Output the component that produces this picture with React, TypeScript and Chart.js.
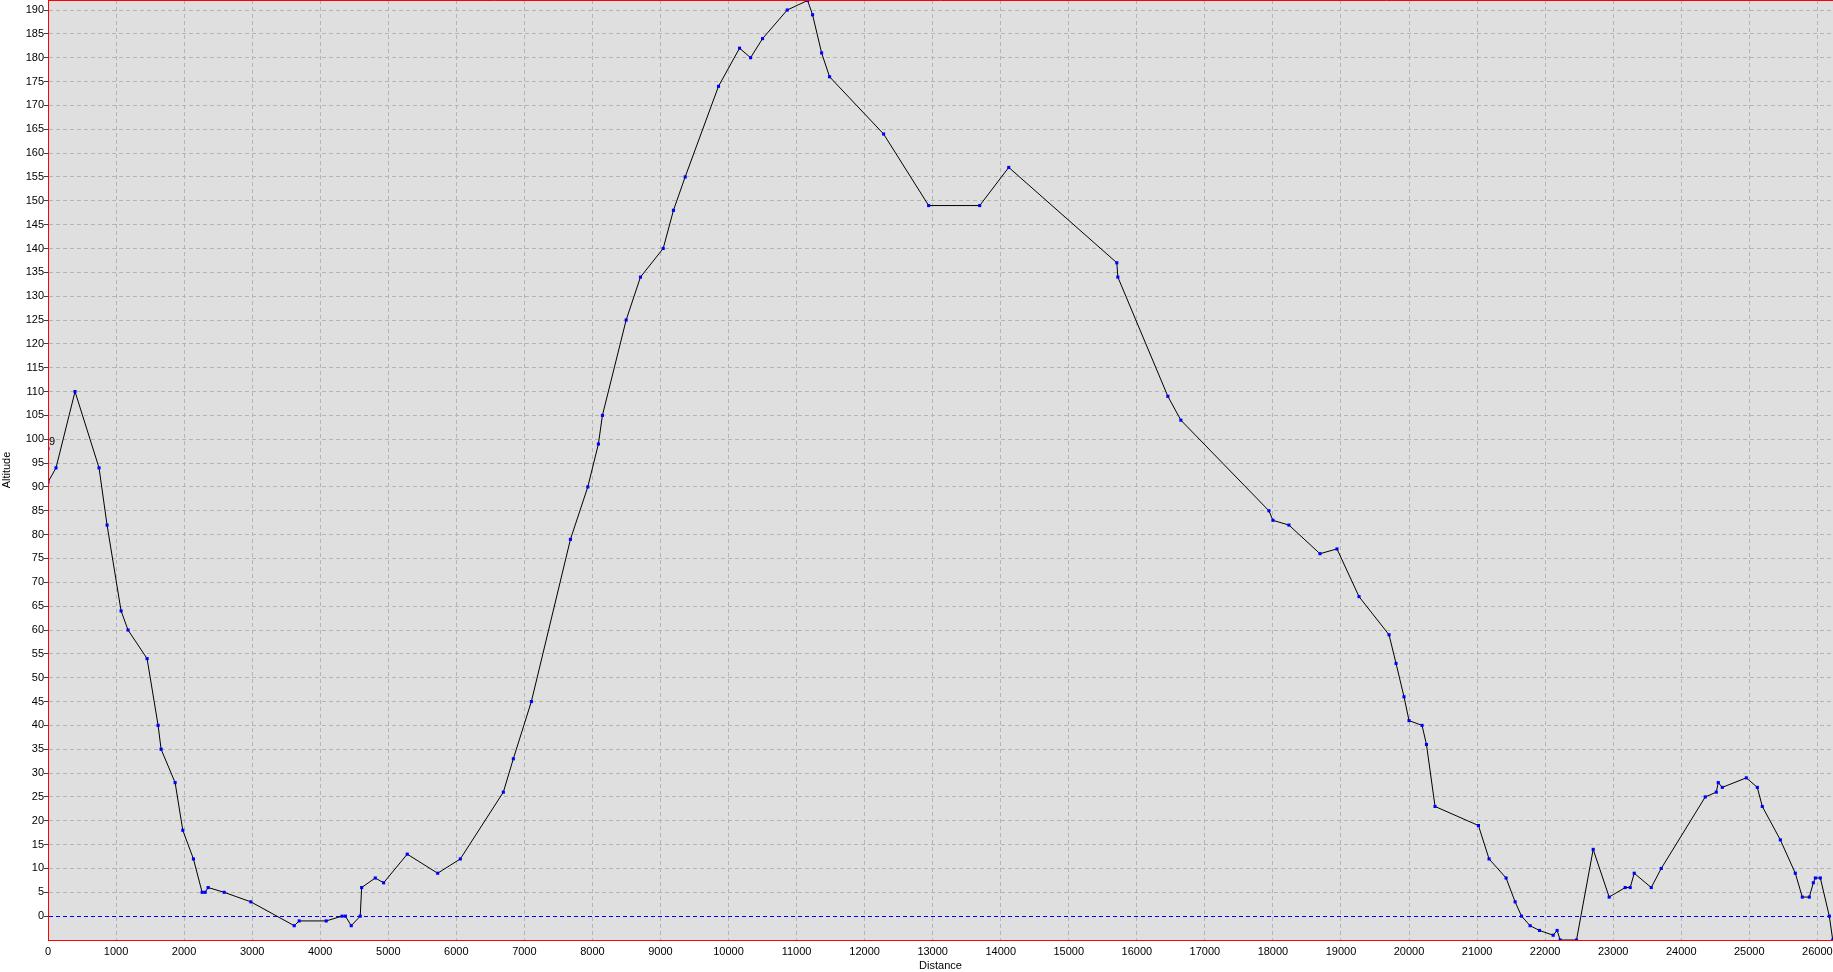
import React, { useEffect, useRef } from "react";
import { Chart, registerables } from "chart.js";

Chart.register(...registerables);

// Distance (m) of each profile point
const distances: number[] = [
  0, 118, 397, 750, 868, 1074, 1176, 1456, 1618, 1662, 1868, 1981, 2137, 2265, 2309, 2353, 2588, 2981,
  3618, 3691, 4088, 4320, 4370, 4456, 4588, 4609, 4809, 4932, 5279, 5726, 6059, 6691, 6838, 7103, 7677,
  7932, 8088, 8147, 8496, 8706, 9040, 9191, 9363, 9853, 10162, 10324, 10500, 10863, 11162, 11235, 11368,
  11485, 12279, 12941, 13691, 14118, 15706, 15721, 16456, 16647, 17941, 18000, 18235, 18691, 18941,
  19265, 19706, 19809, 19926, 20000, 20191, 20256, 20382, 21020, 21176, 21426, 21559, 21653, 21779,
  21917, 22118, 22176, 22221, 22461, 22706, 22941, 23176, 23250, 23309, 23559, 23706, 24353, 24515,
  24544, 24603, 24956, 25118, 25191, 25456, 25676, 25779, 25882, 25941, 25971, 26044, 26176, 26226,
];

// Altitude (m) of each profile point
const altitudes: number[] = [
  91, 94, 110, 94, 82, 64, 60, 54, 40, 35, 28, 18, 12, 5, 5, 6, 5, 3,
  -2, -1, -1, 0, 0, -2, 0, 6, 8, 7, 13, 9, 12, 26, 33, 45, 79,
  90, 99, 105, 125, 134, 140, 148, 155, 174, 182, 180, 184, 190, 192, 189, 181,
  176, 164, 149, 149, 157, 137, 134, 109, 104, 85, 83, 82, 76, 77,
  67, 59, 53, 46, 41, 40, 36, 23, 19, 12, 8, 3, 0, -2,
  -3, -4, -3, -5, -5, 14, 4, 6, 6, 9, 6, 10, 25, 26,
  28, 27, 29, 27, 23, 16, 9, 4, 4, 7, 8, 8, 0, -5,
];

// Lone marker near the start
const markerDistances: number[] = [0];
const markerAltitudes: number[] = [98];
const markerLabel = "9";

// Axis ticks
const xTickValues: number[] = Array.from({ length: 27 }, (_, i) => i * 1000);
const yTickValues: number[] = Array.from({ length: 40 }, (_, i) => -5 + i * 5);

const X_MIN = 0;
const X_MAX = 26230;
const Y_MIN = -5;
const Y_MAX = 192.1;

const FONT = "'Liberation Sans', Arial, sans-serif";

export default function App() {
  const canvasRef = useRef<HTMLCanvasElement | null>(null);

  useEffect(() => {
    const canvas = canvasRef.current;
    if (!canvas) return;

    const frame = {
      id: "frame",
      beforeDraw(chart: any) {
        const { ctx, chartArea } = chart;
        ctx.save();
        ctx.fillStyle = "#dfdfdf";
        ctx.fillRect(chartArea.left, chartArea.top, chartArea.right - chartArea.left, chartArea.bottom - chartArea.top);
        ctx.restore();
      },
      afterDatasetsDraw(chart: any) {
        const { ctx, chartArea } = chart;
        ctx.save();
        const meta = chart.getDatasetMeta(1);
        if (meta && meta.data[0]) {
          const p = meta.data[0];
          ctx.beginPath();
          ctx.rect(chartArea.left, chartArea.top, chartArea.right - chartArea.left, chartArea.bottom - chartArea.top);
          ctx.clip();
          ctx.fillStyle = "#000";
          ctx.font = "11px " + FONT;
          ctx.textAlign = "left";
          ctx.textBaseline = "bottom";
          ctx.fillText(markerLabel, p.x + 1, p.y - 1);
        }
        ctx.restore();
        ctx.save();
        ctx.strokeStyle = "#ff0000";
        ctx.lineWidth = 1;
        ctx.beginPath();
        ctx.moveTo(chartArea.left, chartArea.top + 0.5);
        ctx.lineTo(chartArea.right, chartArea.top + 0.5);
        ctx.moveTo(chartArea.left, chartArea.bottom + 0.5);
        ctx.lineTo(chartArea.right, chartArea.bottom + 0.5);
        ctx.moveTo(chartArea.left + 0.5, chartArea.top);
        ctx.lineTo(chartArea.left + 0.5, chartArea.bottom);
        ctx.stroke();
        ctx.restore();
      },
    };

    const chart = new Chart(canvas, {
      type: "line",
      data: {
        datasets: [
          {
            label: "Altitude",
            data: distances.map((d, i) => ({ x: d, y: altitudes[i] })),
            borderColor: "#000000",
            borderWidth: 1,
            tension: 0,
            pointStyle: "rect",
            pointRadius: 2.2,
            pointBorderWidth: 0,
            pointBackgroundColor: "#0000ff",
            fill: false,
          },
          {
            label: "Marker",
            data: markerDistances.map((d, i) => ({ x: d, y: markerAltitudes[i] })),
            showLine: false,
            pointStyle: "rect",
            pointRadius: 2.2,
            pointBorderWidth: 0,
            pointBackgroundColor: "#0000ff",
          },
        ],
      },
      options: {
        animation: false,
        responsive: true,
        maintainAspectRatio: false,
        layout: { padding: 0, autoPadding: false },
        plugins: {
          legend: { display: false },
          tooltip: { enabled: false },
        },
        scales: {
          x: {
            type: "linear",
            min: X_MIN,
            max: X_MAX,
            afterBuildTicks: (s: any) => {
              s.ticks = xTickValues.map((v) => ({ value: v }));
            },
            afterFit: (s: any) => {
              s.height = 32;
              s.paddingLeft = 0;
              s.paddingRight = 0;
            },
            ticks: {
              autoSkip: false,
              maxRotation: 0,
              padding: 5,
              color: "#000",
              font: { family: FONT, size: 11 },
              callback: (v: any) => String(v),
            },
            grid: {
              drawTicks: false,
              color: "#b4b4b4",
              lineWidth: 1,
            },
            border: { color: "#ff0000", width: 1, dash: [4, 3] },
            title: {
              display: true,
              text: "Distance",
              color: "#000",
              font: { family: FONT, size: 11 },
              padding: { top: 0, bottom: -1 },
            },
          },
          y: {
            type: "linear",
            min: Y_MIN,
            max: Y_MAX,
            afterBuildTicks: (s: any) => {
              s.ticks = yTickValues.map((v) => ({ value: v }));
            },
            afterFit: (s: any) => {
              s.width = 48;
              s.paddingTop = 0;
              s.paddingBottom = 0;
            },
            ticks: {
              autoSkip: false,
              padding: 0,
              color: "#000",
              font: { family: FONT, size: 11 },
              callback: (v: any) => (v === Y_MIN ? "" : String(v)),
            },
            grid: {
              drawTicks: true,
              tickLength: 4,
              color: (c: any) =>
                c.tick && c.tick.value === 0 ? "#0000ff" : c.tick && c.tick.value === Y_MIN ? "rgba(0,0,0,0)" : "#b4b4b4",
              tickColor: (c: any) => (c.tick && c.tick.value === Y_MIN ? "rgba(0,0,0,0)" : "#404040"),
              lineWidth: 1,
            },
            border: { color: "#ff0000", width: 1, dash: [4, 3] },
            title: {
              display: true,
              text: "Altitude",
              color: "#000",
              font: { family: FONT, size: 11 },
              padding: { top: 0, bottom: 0 },
            },
          },
        },
      },
      plugins: [frame],
    });

    return () => chart.destroy();
  }, []);

  return (
    <div
      style={{
        position: "fixed",
        left: 0,
        top: 0,
        width: 1833,
        height: 972,
        background: "#ffffff",
      }}
    >
      <canvas ref={canvasRef} />
    </div>
  );
}
